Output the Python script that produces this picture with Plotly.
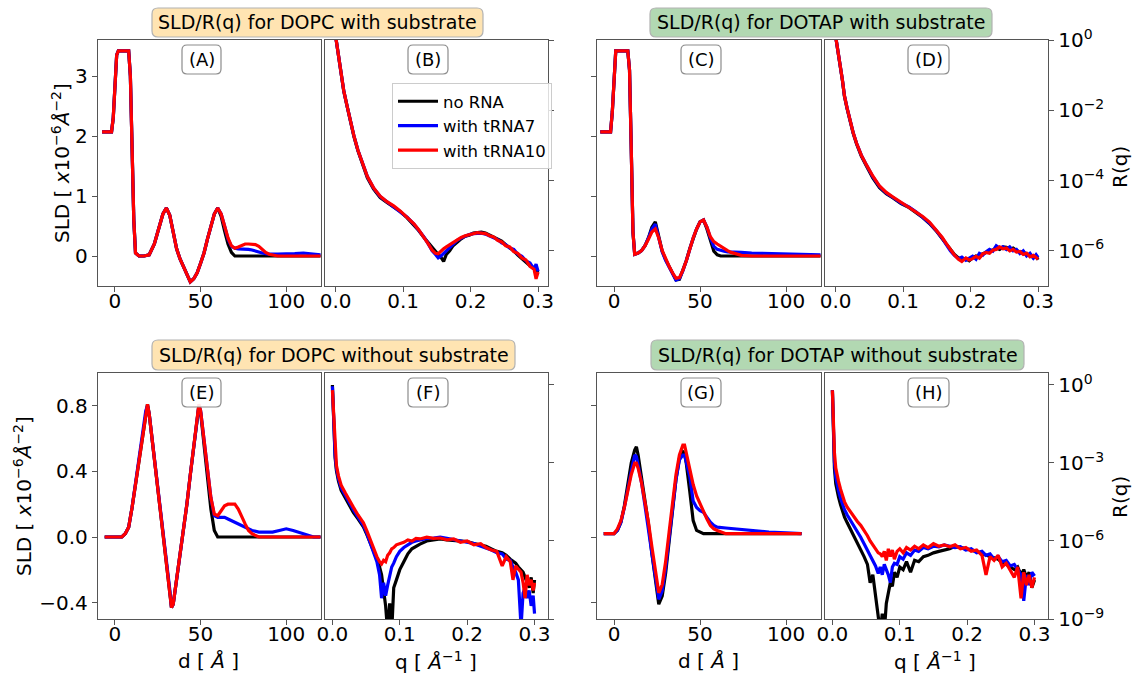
import math
import plotly.graph_objects as go

W, H = 1132, 676
FONT = "DejaVu Sans"
SPINE = "#555555"

# ---------------------------------------------------------------------------
# SLD profiles (d in Angstrom, SLD in 1e-6 A^-2)
# ---------------------------------------------------------------------------
d_A = [-7.5, -2, -1, 0, 1, 2, 8, 9, 10, 11, 12, 14, 17, 20, 23, 26, 28, 30, 32, 34,
       36, 38, 40, 42, 44, 46, 48, 50, 52, 54, 56, 58, 60, 62, 64, 66, 68, 70, 72, 74,
       76, 78, 80, 82, 84, 86, 88, 90, 95, 100, 105, 110, 115, 120]
sld_A_none = [2.07, 2.07, 2.3, 2.9, 3.35, 3.42, 3.42, 3.0, 1.8, 0.6,
              0.05, 0.0, 0.0, 0.02, 0.2, 0.5, 0.7, 0.8, 0.68, 0.4,
              0.12, -0.05, -0.18, -0.3, -0.43, -0.38, -0.28, -0.12, 0.05, 0.28,
              0.5, 0.7, 0.8, 0.66, 0.42, 0.2, 0.06, 0.0, 0.0, 0.0,
              0.0, 0.0, 0.0, 0.0, 0.0, 0.0, 0.0, 0.0, 0.0, 0.0,
              0.0, 0.0, 0.0, 0.0]
sld_A_t7 = [2.07, 2.07, 2.3, 2.9, 3.35, 3.42, 3.42, 3.0, 1.8, 0.6,
            0.05, 0.0, 0.0, 0.02, 0.2, 0.5, 0.7, 0.8, 0.68, 0.4,
            0.12, -0.05, -0.18, -0.3, -0.43, -0.38, -0.28, -0.12, 0.05, 0.28,
            0.5, 0.7, 0.8, 0.7, 0.5, 0.28, 0.16, 0.13, 0.12, 0.12,
            0.12, 0.11, 0.1, 0.08, 0.07, 0.05, 0.04, 0.03, 0.03, 0.03,
            0.04, 0.05, 0.03, 0.02]
sld_A_t10 = [2.07, 2.07, 2.3, 2.9, 3.35, 3.42, 3.42, 3.0, 1.8, 0.6,
             0.05, 0.0, 0.0, 0.02, 0.2, 0.5, 0.7, 0.8, 0.68, 0.4,
             0.12, -0.05, -0.18, -0.3, -0.43, -0.38, -0.28, -0.12, 0.05, 0.28,
             0.5, 0.7, 0.8, 0.7, 0.5, 0.3, 0.17, 0.13, 0.15, 0.18,
             0.2, 0.2, 0.2, 0.19, 0.16, 0.11, 0.06, 0.03, 0.0, 0.0,
             0.0, 0.0, 0.0, 0.0]

d_C = [-8, -2, -1, 0, 1, 8, 9, 10, 11, 12, 14, 16, 18, 20, 22, 24, 26, 28, 30, 32,
       34, 36, 38, 40, 42, 44, 46, 48, 50, 52, 54, 56, 58, 60, 62, 64, 66, 68, 70, 74,
       80, 90, 100, 110, 120]
sld_C_none = [2.07, 2.07, 2.4, 3.0, 3.42, 3.42, 3.1, 1.8, 0.4, 0.03,
              0.05, 0.09, 0.17, 0.3, 0.48, 0.57, 0.32, 0.08, -0.06, -0.18,
              -0.3, -0.4, -0.39, -0.25, -0.08, 0.12, 0.3, 0.45, 0.57, 0.6,
              0.45, 0.25, 0.08, 0.02, 0.0, 0.0, 0.0, 0.0, 0.0, 0.0,
              0.0, 0.0, 0.0, 0.0, 0.0]
sld_C_t7 = [2.07, 2.07, 2.4, 3.0, 3.42, 3.42, 3.1, 1.8, 0.4, 0.03,
            0.05, 0.09, 0.17, 0.3, 0.45, 0.53, 0.3, 0.07, -0.07, -0.19,
            -0.31, -0.4, -0.38, -0.25, -0.08, 0.12, 0.3, 0.45, 0.57, 0.6,
            0.48, 0.3, 0.16, 0.11, 0.09, 0.08, 0.07, 0.07, 0.06, 0.06,
            0.05, 0.04, 0.03, 0.02, 0.02]
sld_C_t10 = [2.07, 2.07, 2.4, 3.0, 3.42, 3.42, 3.1, 1.8, 0.4, 0.03,
             0.05, 0.09, 0.17, 0.28, 0.4, 0.45, 0.3, 0.09, -0.05, -0.17,
             -0.28, -0.37, -0.36, -0.24, -0.08, 0.12, 0.3, 0.45, 0.57, 0.6,
             0.48, 0.32, 0.24, 0.2, 0.16, 0.12, 0.09, 0.06, 0.04, 0.01,
             0.0, 0.0, 0.0, 0.0, 0.0]

d_E = [-6, 0, 4, 6, 8, 10, 12, 14, 16, 18, 19, 20, 22, 24, 26, 28, 30, 32, 33, 34,
       36, 38, 40, 42, 44, 46, 48, 49, 50, 52, 54, 56, 58, 60, 62, 64, 66, 68, 70, 72,
       74, 76, 78, 80, 84, 88, 92, 96, 100, 104, 108, 112, 116, 120]
sld_E_none = [0.0, 0.0, 0.0, 0.02, 0.06, 0.18, 0.32, 0.47, 0.63, 0.77,
              0.81, 0.75, 0.57, 0.4, 0.22, 0.05, -0.13, -0.32, -0.43, -0.41,
              -0.26, -0.11, 0.04, 0.2, 0.38, 0.56, 0.75, 0.8, 0.76, 0.56,
              0.36, 0.17, 0.04, 0.0, 0.0, 0.0, 0.0, 0.0, 0.0, 0.0,
              0.0, 0.0, 0.0, 0.0, 0.0, 0.0, 0.0, 0.0, 0.0, 0.0,
              0.0, 0.0, 0.0, 0.0]
sld_E_t7 = [0.0, 0.0, 0.0, 0.02, 0.06, 0.18, 0.32, 0.47, 0.63, 0.77,
            0.8, 0.75, 0.57, 0.4, 0.22, 0.05, -0.13, -0.32, -0.43, -0.41,
            -0.26, -0.11, 0.04, 0.2, 0.38, 0.56, 0.75, 0.8, 0.77, 0.58,
            0.4, 0.24, 0.13, 0.12, 0.12, 0.12, 0.11, 0.1, 0.09, 0.08,
            0.07, 0.055, 0.045, 0.04, 0.03, 0.03, 0.03, 0.04, 0.05, 0.04,
            0.025, 0.01, 0.0, 0.0]
sld_E_t10 = [0.0, 0.0, 0.0, 0.02, 0.06, 0.18, 0.32, 0.47, 0.63, 0.77,
             0.81, 0.75, 0.57, 0.4, 0.22, 0.05, -0.13, -0.32, -0.43, -0.41,
             -0.26, -0.11, 0.04, 0.2, 0.38, 0.56, 0.76, 0.81, 0.77, 0.58,
             0.4, 0.24, 0.14, 0.13, 0.16, 0.19, 0.2, 0.2, 0.2, 0.17,
             0.12, 0.08, 0.04, 0.02, 0.0, 0.0, 0.0, 0.0, 0.0, 0.0,
             0.0, 0.0, 0.0, 0.0]

d_G = [-6, 0, 2, 4, 6, 8, 10, 12, 13, 14, 16, 18, 20, 22, 24, 26, 28, 30, 32, 34,
       36, 38, 40, 41, 42, 44, 46, 48, 50, 52, 54, 56, 58, 60, 65, 70, 80, 90, 100, 109]
sld_G_none = [0.02, 0.02, 0.04, 0.09, 0.19, 0.32, 0.45, 0.53, 0.55, 0.5,
              0.36, 0.2, 0.08, -0.1, -0.25, -0.41, -0.36, -0.22, -0.03, 0.17,
              0.35, 0.48, 0.52, 0.51, 0.45, 0.28, 0.1, 0.04, 0.03, 0.02,
              0.02, 0.02, 0.02, 0.02, 0.02, 0.02, 0.02, 0.02, 0.02, 0.02]
sld_G_t7 = [0.02, 0.02, 0.04, 0.09, 0.18, 0.3, 0.4, 0.5, 0.49, 0.44,
            0.33, 0.19, 0.06, -0.1, -0.24, -0.38, -0.33, -0.19, -0.01, 0.18,
            0.35, 0.47, 0.5, 0.5, 0.46, 0.37, 0.22, 0.18, 0.16, 0.15,
            0.12, 0.09, 0.07, 0.06, 0.055, 0.05, 0.04, 0.03, 0.025, 0.02]
sld_G_t10 = [0.02, 0.02, 0.05, 0.1, 0.18, 0.28, 0.38, 0.45, 0.45, 0.42,
             0.33, 0.21, 0.09, -0.06, -0.2, -0.34, -0.29, -0.15, 0.03, 0.22,
             0.38, 0.5, 0.56, 0.56, 0.51, 0.41, 0.32, 0.25, 0.2, 0.16,
             0.11, 0.07, 0.05, 0.04, 0.02, 0.02, 0.02, 0.02, 0.02, 0.02]

# ---------------------------------------------------------------------------
# Reflectivity curves (q in 1/A, R dimensionless)
# ---------------------------------------------------------------------------
q_B = [0.0, 0.004, 0.008, 0.012, 0.017, 0.022, 0.027, 0.033, 0.039, 0.047,
       0.056, 0.066, 0.076, 0.086, 0.096, 0.106, 0.116, 0.123, 0.130, 0.137,
       0.143, 0.148, 0.152, 0.156, 0.160, 0.164, 0.169, 0.174, 0.180, 0.186,
       0.192, 0.198, 0.204, 0.210, 0.216, 0.222, 0.228, 0.234, 0.240, 0.246,
       0.252, 0.258, 0.264, 0.270, 0.276, 0.282, 0.288, 0.294, 0.297, 0.300]
R_B_none = [1.26, 0.35, 0.10, 3.5e-2, 1.3e-2, 4.5e-3, 1.8e-3, 7.1e-4, 3.2e-4, 1.2e-4,
            5.8e-5, 3.3e-5, 2.4e-5, 1.8e-5, 1.3e-5, 8.7e-6, 5.5e-6, 3.8e-6, 2.5e-6, 1.7e-6,
            1.2e-6, 9.5e-7, 7.9e-7, 6.6e-7, 5.0e-7, 7.9e-7, 1.0e-6, 1.4e-6, 1.8e-6, 2.2e-6,
            2.6e-6, 2.8e-6, 3.2e-6, 3.3e-6, 3.4e-6, 3.2e-6, 2.8e-6, 2.5e-6, 2.2e-6, 1.9e-6,
            1.5e-6, 1.26e-6, 1.0e-6, 7.6e-7, 6.0e-7, 5.0e-7, 3.8e-7, 3.2e-7, 2.4e-7, 2.8e-7]
R_B_t7 = [1.26, 0.36, 0.10, 3.6e-2, 1.3e-2, 4.6e-3, 1.9e-3, 7.3e-4, 3.3e-4, 1.3e-4,
          6.2e-5, 3.5e-5, 2.5e-5, 1.8e-5, 1.3e-5, 9.0e-6, 5.8e-6, 4.0e-6, 2.6e-6, 1.6e-6,
          1.0e-6, 7.9e-7, 6.3e-7, 7.1e-7, 8.5e-7, 1.0e-6, 1.3e-6, 1.6e-6, 2.0e-6, 2.3e-6,
          2.6e-6, 2.9e-6, 3.1e-6, 3.2e-6, 3.2e-6, 3.0e-6, 2.7e-6, 2.3e-6, 2.1e-6, 1.7e-6,
          1.5e-6, 1.2e-6, 1.1e-6, 8.0e-7, 7.0e-7, 5.2e-7, 4.5e-7, 3.0e-7, 4.2e-7, 2.6e-7]
R_B_t10 = [1.26, 0.36, 0.10, 3.6e-2, 1.3e-2, 4.6e-3, 1.9e-3, 7.3e-4, 3.3e-4, 1.3e-4,
           6.3e-5, 3.6e-5, 2.5e-5, 1.9e-5, 1.35e-5, 9.2e-6, 5.9e-6, 4.0e-6, 2.6e-6, 1.6e-6,
           1.05e-6, 8.5e-7, 8.3e-7, 1.0e-6, 1.15e-6, 1.3e-6, 1.5e-6, 1.8e-6, 2.1e-6, 2.4e-6,
           2.7e-6, 2.9e-6, 3.1e-6, 3.3e-6, 3.2e-6, 3.1e-6, 2.7e-6, 2.5e-6, 2.0e-6, 1.8e-6,
           1.4e-6, 1.3e-6, 9.5e-7, 8.5e-7, 6.3e-7, 5.5e-7, 3.6e-7, 3.0e-7, 1.6e-7, 2.5e-7]

q_D = [0.0, 0.003, 0.006, 0.010, 0.013, 0.017, 0.021, 0.026, 0.031, 0.038,
       0.046, 0.055, 0.065, 0.075, 0.085, 0.097, 0.109, 0.119, 0.129, 0.139,
       0.149, 0.158, 0.164, 0.170, 0.176, 0.182, 0.187, 0.193, 0.198, 0.203,
       0.208, 0.213, 0.218, 0.223, 0.228, 0.233, 0.238, 0.243, 0.248, 0.253,
       0.258, 0.263, 0.268, 0.273, 0.278, 0.283, 0.288, 0.293, 0.297, 0.300]
R_D_none = [1.26, 0.45, 0.22, 7.1e-2, 2.5e-2, 1.1e-2, 5.0e-3, 2.2e-3, 1.1e-3, 5.0e-4,
            2.5e-4, 1.2e-4, 6.3e-5, 4.2e-5, 3.2e-5, 2.2e-5, 1.7e-5, 1.26e-5, 8.9e-6, 6.0e-6,
            3.7e-6, 2.2e-6, 1.6e-6, 1.1e-6, 7.9e-7, 6.3e-7, 5.6e-7, 6.0e-7, 5.2e-7, 6.3e-7,
            7.1e-7, 6.6e-7, 8.3e-7, 8.9e-7, 1.0e-6, 1.05e-6, 1.2e-6, 1.1e-6, 1.3e-6, 1.26e-6,
            1.1e-6, 1.2e-6, 1.0e-6, 8.9e-7, 9.5e-7, 7.6e-7, 7.9e-7, 6.3e-7, 7.1e-7, 5.6e-7]
R_D_t7 = [1.26, 0.46, 0.23, 7.3e-2, 2.6e-2, 1.15e-2, 5.2e-3, 2.3e-3, 1.15e-3, 5.3e-4,
          2.7e-4, 1.3e-4, 6.8e-5, 4.4e-5, 3.3e-5, 2.3e-5, 1.75e-5, 1.3e-5, 9.0e-6, 6.2e-6,
          3.8e-6, 2.3e-6, 1.5e-6, 1.0e-6, 7.4e-7, 6.0e-7, 6.6e-7, 5.4e-7, 6.2e-7, 7.0e-7,
          5.8e-7, 8.5e-7, 7.5e-7, 9.5e-7, 1.1e-6, 9.8e-7, 1.4e-6, 1.2e-6, 1.3e-6, 1.1e-6,
          1.3e-6, 1.0e-6, 1.1e-6, 8.4e-7, 1.0e-6, 7.2e-7, 8.5e-7, 6.2e-7, 7.8e-7, 6.5e-7]
R_D_t10 = [1.26, 0.46, 0.23, 7.3e-2, 2.6e-2, 1.15e-2, 5.2e-3, 2.3e-3, 1.15e-3, 5.3e-4,
           2.7e-4, 1.35e-4, 7.0e-5, 4.6e-5, 3.4e-5, 2.4e-5, 1.8e-5, 1.35e-5, 9.5e-6, 6.6e-6,
           4.0e-6, 2.4e-6, 1.6e-6, 1.1e-6, 7.6e-7, 5.8e-7, 5.0e-7, 6.3e-7, 5.5e-7, 6.0e-7,
           7.0e-7, 6.2e-7, 8.2e-7, 9.0e-7, 8.5e-7, 1.05e-6, 1.1e-6, 1.3e-6, 1.15e-6, 1.2e-6,
           1.0e-6, 1.1e-6, 9.2e-7, 9.6e-7, 7.9e-7, 8.6e-7, 6.8e-7, 7.5e-7, 6.2e-7, 5.8e-7]

q_F = [0.0, 0.001, 0.002, 0.003, 0.004, 0.006, 0.009, 0.013, 0.019, 0.025,
       0.031, 0.038, 0.046, 0.051, 0.056, 0.061, 0.066, 0.070, 0.073, 0.076,
       0.079, 0.082, 0.085, 0.088, 0.091, 0.095, 0.100, 0.106, 0.112, 0.118,
       0.124, 0.130, 0.140, 0.150, 0.160, 0.170, 0.180, 0.190, 0.200, 0.210,
       0.220, 0.228, 0.236, 0.244, 0.252, 0.258, 0.264, 0.268, 0.272, 0.276,
       0.280, 0.283, 0.286, 0.289, 0.292, 0.295, 0.298, 0.300]
R_F_none = [1.0, 0.126, 3.2e-2, 6.3e-3, 1.6e-3, 5.0e-4, 2.0e-4, 8.9e-5, 4.5e-5, 2.2e-5,
            1.26e-5, 7.1e-6, 3.5e-6, 1.8e-6, 8.9e-7, 4.5e-7, 2.0e-7, 1.0e-7, 5.0e-8, 1.26e-8,
            3.2e-9, 3.2e-10, 4.0e-9, 3.2e-10, 1.6e-8, 3.2e-8, 7.9e-8, 1.6e-7, 3.2e-7, 5.0e-7,
            6.3e-7, 7.6e-7, 1.0e-6, 1.1e-6, 1.2e-6, 1.1e-6, 1.07e-6, 1.0e-6, 9.5e-7, 7.9e-7,
            7.1e-7, 6.3e-7, 5.0e-7, 4.0e-7, 3.5e-7, 2.8e-7, 2.0e-7, 1.6e-7, 1.4e-7, 1.0e-7,
            7.9e-8, 6.3e-8, 4.0e-8, 2.5e-8, 1.6e-8, 4.0e-8, 1.0e-8, 3.2e-8]
R_F_t7 = [0.89, 0.14, 3.5e-2, 7.9e-3, 2.0e-3, 6.3e-4, 2.5e-4, 1.1e-4, 5.6e-5, 2.8e-5,
          1.6e-5, 8.3e-6, 4.0e-6, 2.0e-6, 8.9e-7, 4.0e-7, 1.6e-7, 5.0e-8, 6.3e-9, 2.5e-8,
          7.9e-9, 2.0e-8, 5.0e-8, 1.0e-7, 1.4e-7, 2.5e-7, 4.0e-7, 5.6e-7, 7.1e-7, 8.9e-7,
          1.0e-6, 1.1e-6, 1.26e-6, 1.3e-6, 1.4e-6, 1.26e-6, 1.1e-6, 1.0e-6, 8.9e-7, 7.9e-7,
          6.3e-7, 5.6e-7, 4.5e-7, 3.5e-7, 3.2e-7, 2.0e-7, 1.8e-7, 1.0e-7, 6.3e-8, 3.2e-8,
          5.0e-10, 1.0e-8, 1.6e-8, 6.3e-9, 1.26e-8, 3.2e-9, 7.9e-9, 1.6e-9]
R_F_t10 = [0.63, 0.16, 4.5e-2, 1.0e-2, 2.5e-3, 7.9e-4, 3.2e-4, 1.4e-4, 7.1e-5, 3.5e-5,
           2.0e-5, 1.0e-5, 5.0e-6, 2.5e-6, 1.1e-6, 5.0e-7, 2.5e-7, 1.6e-7, 1.3e-7, 1.8e-7,
           1.6e-7, 2.8e-7, 3.5e-7, 5.0e-7, 5.6e-7, 7.1e-7, 7.9e-7, 8.9e-7, 1.1e-6, 1.0e-6,
           1.26e-6, 1.2e-6, 1.4e-6, 1.26e-6, 1.3e-6, 1.1e-6, 1.2e-6, 8.9e-7, 1.0e-6, 7.1e-7,
           7.9e-7, 5.6e-7, 4.5e-7, 4.0e-7, 1.1e-7, 2.5e-7, 1.6e-7, 3.2e-8, 1.1e-7, 7.9e-8,
           6.3e-8, 2.5e-8, 6.3e-9, 5.0e-8, 2.0e-8, 3.2e-8, 1.26e-8, 2.5e-8]

q_H = [0.0, 0.001, 0.002, 0.003, 0.005, 0.007, 0.009, 0.012, 0.015, 0.018,
       0.022, 0.027, 0.032, 0.037, 0.042, 0.047, 0.052, 0.056, 0.060, 0.064,
       0.068, 0.071, 0.074, 0.077, 0.080, 0.083, 0.086, 0.089, 0.092, 0.096,
       0.100, 0.105, 0.110, 0.116, 0.122, 0.128, 0.135, 0.142, 0.150, 0.158,
       0.166, 0.174, 0.182, 0.190, 0.198, 0.206, 0.214, 0.222, 0.228, 0.234,
       0.240, 0.246, 0.252, 0.258, 0.264, 0.270, 0.275, 0.280, 0.284, 0.288,
       0.292, 0.296, 0.300]
R_H_none = [0.63, 3.2e-2, 4.0e-3, 6.3e-4, 1.6e-4, 7.9e-5, 5.0e-5, 2.5e-5, 1.4e-5, 8.3e-6,
            5.0e-6, 2.8e-6, 1.4e-6, 8.9e-7, 5.0e-7, 2.5e-7, 1.26e-7, 2.5e-8, 5.0e-8, 1.0e-8,
            2.2e-9, 3.2e-10, 1.6e-9, 3.2e-10, 4.0e-9, 1.0e-8, 2.5e-8, 1.8e-8, 6.3e-8, 4.0e-8,
            1.0e-7, 7.9e-8, 1.6e-7, 6.3e-8, 1.8e-7, 1.6e-7, 2.5e-7, 2.8e-7, 3.5e-7, 4.0e-7,
            4.5e-7, 5.0e-7, 6.3e-7, 5.6e-7, 5.0e-7, 4.5e-7, 4.0e-7, 3.2e-7, 2.8e-7, 2.5e-7,
            2.2e-7, 2.0e-7, 1.4e-7, 1.26e-7, 1.0e-7, 7.9e-8, 1.0e-7, 5.0e-8, 7.9e-8, 4.0e-8,
            6.3e-8, 1.6e-8, 3.2e-8]
R_H_t7 = [0.63, 5.0e-2, 6.3e-3, 1.1e-3, 2.8e-4, 1.4e-4, 8.9e-5, 4.5e-5, 2.5e-5, 1.6e-5,
          1.0e-5, 6.3e-6, 3.5e-6, 2.2e-6, 1.4e-6, 7.9e-7, 4.5e-7, 2.8e-7, 1.8e-7, 1.1e-7,
          5.6e-8, 1.0e-7, 5.0e-8, 1.26e-7, 7.9e-8, 5.0e-8, 2.5e-8, 1.0e-7, 1.4e-7, 1.26e-7,
          2.5e-7, 2.0e-7, 3.5e-7, 2.8e-7, 4.5e-7, 4.0e-7, 5.6e-7, 5.0e-7, 6.3e-7, 6.0e-7,
          7.1e-7, 6.3e-7, 5.6e-7, 6.0e-7, 4.5e-7, 5.0e-7, 3.5e-7, 4.0e-7, 2.8e-7, 3.2e-7,
          2.0e-7, 2.5e-7, 1.6e-7, 1.8e-7, 1.1e-7, 1.26e-7, 7.9e-8, 5.0e-8, 5.0e-9, 5.0e-8,
          2.0e-8, 6.3e-8, 4.5e-8]
R_H_t10 = [0.63, 7.9e-2, 1.26e-2, 2.5e-3, 6.3e-4, 3.2e-4, 2.0e-4, 1.0e-4, 5.6e-5, 3.2e-5,
           2.0e-5, 1.26e-5, 8.3e-6, 5.6e-6, 4.0e-6, 2.6e-6, 1.6e-6, 1.0e-6, 7.1e-7, 5.0e-7,
           3.5e-7, 3.2e-7, 2.5e-7, 4.0e-7, 1.8e-7, 5.0e-7, 2.5e-7, 4.5e-7, 2.0e-7, 4.0e-7,
           5.0e-7, 3.5e-7, 5.6e-7, 4.5e-7, 6.3e-7, 5.0e-7, 7.1e-7, 5.6e-7, 7.9e-7, 6.3e-7,
           7.1e-7, 6.0e-7, 7.1e-7, 5.0e-7, 5.6e-7, 4.0e-7, 4.5e-7, 2.8e-7, 5.0e-8, 2.5e-7,
           1.8e-7, 2.8e-7, 1.0e-7, 1.4e-7, 7.9e-8, 4.0e-8, 1.0e-7, 6.3e-9, 6.3e-8, 2.0e-8,
           5.0e-8, 1.6e-8, 4.0e-8]

SERIES = ["no RNA", "with tRNA7", "with tRNA10"]
COLORS = ["black", "blue", "red"]

TITLES = ["SLD/R(q) for DOPC with substrate", "SLD/R(q) for DOTAP with substrate",
          "SLD/R(q) for DOPC without substrate", "SLD/R(q) for DOTAP without substrate"]
PANEL_TAGS = ["(A)", "(B)", "(C)", "(D)", "(E)", "(F)", "(G)", "(H)"]

SLD_TICKS_TOP = [0, 1, 2, 3]
SLD_TICKS_BOTTOM = [-0.4, 0.0, 0.4, 0.8]
D_TICKS = [0, 50, 100]
Q_TICKS = [0.0, 0.1, 0.2, 0.3]
R_TICKS_TOP = [1, 1e-2, 1e-4, 1e-6]
R_TICKS_BOTTOM = [1, 1e-3, 1e-6, 1e-9]


def fx(p):
    return p / W


def fy(p):
    return 1 - p / H


# panel frames in pixels: (left, right), (top, bottom)
ROW_TOP = (40, 286)
ROW_BOT = (373, 619)
COLS = [(98, 321), (325, 548), (597, 821), (825, 1048)]

panels = [
    # tag, kind, column, row, abscissa, series list
    ("A", "sld", 0, ROW_TOP, d_A, [sld_A_none, sld_A_t7, sld_A_t10]),
    ("B", "refl", 1, ROW_TOP, q_B, [R_B_none, R_B_t7, R_B_t10]),
    ("C", "sld", 2, ROW_TOP, d_C, [sld_C_none, sld_C_t7, sld_C_t10]),
    ("D", "refl", 3, ROW_TOP, q_D, [R_D_none, R_D_t7, R_D_t10]),
    ("E", "sld", 0, ROW_BOT, d_E, [sld_E_none, sld_E_t7, sld_E_t10]),
    ("F", "refl", 1, ROW_BOT, q_F, [R_F_none, R_F_t7, R_F_t10]),
    ("G", "sld", 2, ROW_BOT, d_G, [sld_G_none, sld_G_t7, sld_G_t10]),
    ("H", "refl", 3, ROW_BOT, q_H, [R_H_none, R_H_t7, R_H_t10]),
]

fig = go.Figure()
tick_font = dict(family=FONT, size=20, color="black")


def sup_label(v):
    e = 0 if v == 1 else round(math.log10(v))
    return "10<sup>%s</sup>" % (str(e).replace("-", "\u2212"))


for i, (tag, kind, col, row, xs, ys_list) in enumerate(panels):
    n = i + 1
    xa = "x" if n == 1 else "x%d" % n
    ya = "y" if n == 1 else "y%d" % n
    for name, color, ys in zip(SERIES, COLORS, ys_list):
        fig.add_trace(go.Scatter(
            x=xs, y=ys, mode="lines", name=name,
            line=dict(color=color, width=3.2),
            xaxis=xa, yaxis=ya,
            showlegend=(tag == "B"), hoverinfo="skip",
        ))

    top_row = row == ROW_TOP
    common = dict(showline=True, mirror=True, linecolor=SPINE, linewidth=1.4,
                  ticks="outside", ticklen=5, tickwidth=1.2, tickcolor=SPINE,
                  showgrid=False, zeroline=False, tickfont=tick_font,
                  automargin=False)
    xdom = [fx(COLS[col][0]), fx(COLS[col][1])]
    ydom = [fy(row[1]), fy(row[0])]

    if kind == "sld":
        xcfg = dict(domain=xdom, anchor=ya, range=[-9.9, 120.3], tickvals=D_TICKS,
                    ticktext=[str(v) for v in D_TICKS], ticklabelstandoff=-8, **common)
        if top_row:
            yvals = SLD_TICKS_TOP
            ytext = [str(v) for v in yvals]
            yrange = [-0.5, 3.6]
        else:
            yvals = SLD_TICKS_BOTTOM
            ytext = [("%.1f" % v).replace("-", "\u2212") for v in yvals]
            yrange = [-0.5, 1.0]
        ycfg = dict(domain=ydom, anchor=xa, range=yrange, tickvals=yvals,
                    ticktext=ytext, side="left",
                    showticklabels=(col == 0), **common)
    else:
        xrange = [-0.0158, 0.3147] if top_row else [-0.011, 0.320]
        xcfg = dict(domain=xdom, anchor=ya, range=xrange, tickvals=Q_TICKS,
                    ticktext=["%.1f" % v for v in Q_TICKS], ticklabelstandoff=-8,
                    **common)
        yvals = R_TICKS_TOP if top_row else R_TICKS_BOTTOM
        yrange = [-7.0, 0.0] if top_row else [-9.0, 0.46]
        ycfg = dict(domain=ydom, anchor=xa, type="log", range=yrange,
                    tickvals=yvals, ticktext=[sup_label(v) for v in yvals],
                    side="right", showticklabels=(col == 3), **common)

    key_x = "xaxis" if n == 1 else "xaxis%d" % n
    key_y = "yaxis" if n == 1 else "yaxis%d" % n
    fig.update_layout(**{key_x: xcfg, key_y: ycfg})

shapes = []
annotations = []


def rounded_box(x0, y0, x1, y1, r, fill, edge, width=1.2):
    rx, ry = r / W, r / H
    X0, X1 = fx(x0), fx(x1)
    Y0, Y1 = fy(y0), fy(y1)  # Y0 is the top edge in paper units
    path = (f"M {X0+rx},{Y0} L {X1-rx},{Y0} Q {X1},{Y0} {X1},{Y0-ry} "
            f"L {X1},{Y1+ry} Q {X1},{Y1} {X1-rx},{Y1} "
            f"L {X0+rx},{Y1} Q {X0},{Y1} {X0},{Y1+ry} "
            f"L {X0},{Y0-ry} Q {X0},{Y0} {X0+rx},{Y0} Z")
    return dict(type="path", path=path, xref="paper", yref="paper",
                fillcolor=fill, line=dict(color=edge, width=width), layer="above")


# group titles
title_boxes = [(152, 483, 8, 37, "#FFE4B2"), (650, 992, 8, 37, "#B2D8B2"),
               (152, 515, 340, 370, "#FFE4B2"), (651, 1024, 340, 370, "#B2D8B2")]
for text, (x0, x1, y0, y1, fill) in zip(TITLES, title_boxes):
    shapes.append(rounded_box(x0, y0, x1, y1, 6, fill, "#B2B2B2"))
    annotations.append(dict(text=text, x=fx((x0 + x1) / 2), y=fy((y0 + y1) / 2),
                            xref="paper", yref="paper", showarrow=False,
                            xanchor="center", yanchor="middle",
                            font=dict(family=FONT, size=19, color="black")))

# panel tags
tag_x = [(182, 221), (408, 448), (681, 721), (908, 949)]
for i, tag in enumerate(PANEL_TAGS):
    x0, x1 = tag_x[i % 4]
    y0, y1 = (45, 74) if i < 4 else (378, 407)
    shapes.append(rounded_box(x0, y0, x1, y1, 5, "rgba(255,255,255,0.9)", "#8C8C8C"))
    annotations.append(dict(text=tag, x=fx((x0 + x1) / 2), y=fy((y0 + y1) / 2),
                            xref="paper", yref="paper", showarrow=False,
                            xanchor="center", yanchor="middle",
                            font=dict(family=FONT, size=18, color="black")))

label_font = dict(family=FONT, size=20, color="black")
sld_title = "SLD [ <i>x</i>10<sup>\u22126</sup><i>Å</i><sup>\u22122</sup>]"
for (x, y) in [(61, 163), (23, 496)]:
    annotations.append(dict(text=sld_title, x=fx(x), y=fy(y), xref="paper", yref="paper",
                            showarrow=False, textangle=-90, xanchor="center",
                            yanchor="middle", font=label_font))
for y in [167, 497]:
    annotations.append(dict(text="R(q)", x=fx(1120), y=fy(y), xref="paper", yref="paper",
                            showarrow=False, textangle=-90, xanchor="center",
                            yanchor="middle", font=label_font))
for x in [208, 708]:
    annotations.append(dict(text="d [ <i>Å</i> ]", x=fx(x), y=fy(661), xref="paper",
                            yref="paper", showarrow=False, xanchor="center",
                            yanchor="middle", font=label_font))
for x in [436, 935]:
    annotations.append(dict(text="q [ <i>Å</i><sup>\u22121</sup> ]", x=fx(x), y=fy(661),
                            xref="paper", yref="paper", showarrow=False,
                            xanchor="center", yanchor="middle", font=label_font))

fig.update_layout(
    template="none",
    width=W, height=H,
    margin=dict(l=0, r=0, t=0, b=0, autoexpand=False),
    paper_bgcolor="white", plot_bgcolor="white",
    font=dict(family=FONT, color="black"),
    shapes=shapes, annotations=annotations,
    showlegend=True,
    legend=dict(x=fx(392), y=fy(83), xanchor="left", yanchor="top",
                bgcolor="rgba(255,255,255,0.8)", bordercolor="#CCCCCC", borderwidth=1,
                font=dict(family=FONT, size=16.5, color="black"),
                tracegroupgap=0, itemwidth=40),
)

fig.write_html("out.html")
